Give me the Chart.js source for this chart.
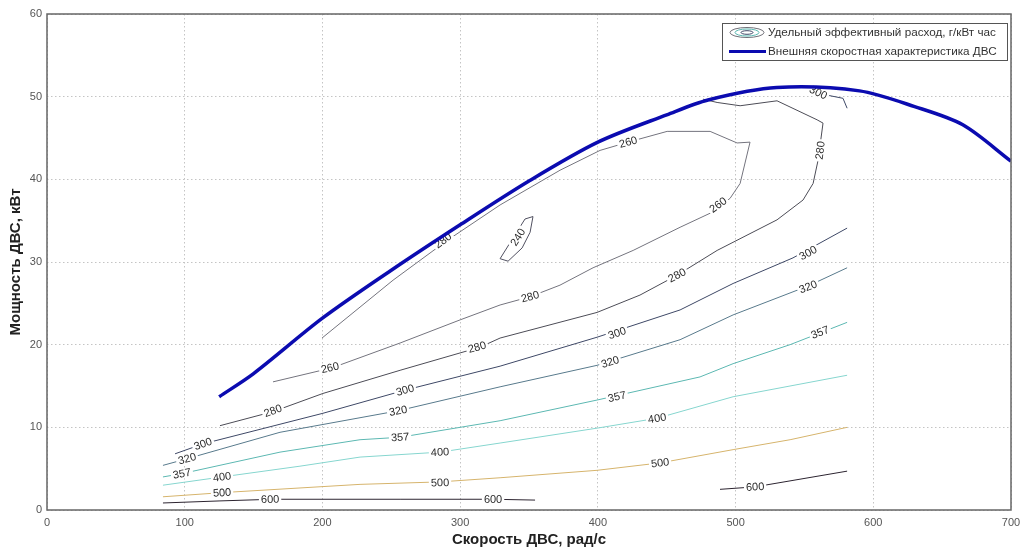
<!DOCTYPE html>
<html>
<head>
<meta charset="utf-8">
<script src="https://cdn.jsdelivr.net/npm/chart.js@4.4.0/dist/chart.umd.min.js"></script>
<style>
  html, body { margin: 0; padding: 0; background: #fff; }
  #wrap { width: 1023px; height: 554px; }
</style>
</head>
<body>
<div id="wrap"><canvas id="mapChart"></canvas></div>
<script>
// Внешняя скоростная характеристика ДВС
const speedX = [125, 150, 200, 250, 300, 350, 400, 450, 480, 530, 590, 630, 665, 700];
const powerY = [13.7, 16.5, 23.2, 29.0, 34.5, 39.8, 44.5, 47.8, 49.6, 51.1, 50.7, 48.8, 46.6, 42.2];

// Изолинии удельного расхода (x - скорость, y - мощность)
const c240x = [352.9, 347.1, 338.4, 329.0, 334.8, 345.0, 350.8, 352.9];
const c240y = [35.5, 35.2, 32.9, 30.4, 30.1, 31.7, 33.6, 35.5];

const c260x = [164.1, 207, 256.4, 300, 329, 350.8, 372.5, 396.5, 425.6, 459.7, 481.5, 496, 503.3, 510.5,
  501.1, 481.5, 450.3, 422, 401.6, 372.5, 329, 290.5, 251.3, 199.7];
const c260y = [15.5, 17.2, 20.2, 23.0, 24.8, 25.8, 27.2, 29.3, 31.4, 34.2, 35.9, 37.7, 39.5, 44.5,
  44.4, 45.8, 45.8, 44.5, 43.5, 41.1, 36.9, 32.6, 27.8, 20.8];

const c280x = [125.6, 164.1, 200.4, 256.4, 314.5, 329, 399.4, 430.6, 457.5, 486.6, 530.1, 549, 556.3,
  559.9, 563.5, 559.2, 530.1, 503.3, 486.6, 476.4];
const c280y = [10.2, 11.9, 14.1, 16.9, 19.7, 20.8, 23.9, 26.0, 28.4, 31.4, 35.1, 37.5, 39.5,
  42.3, 46.8, 47.2, 49.5, 48.9, 49.3, 49.7];

const c300x = [93, 113.3, 200.4, 260, 329, 399.4, 459.7, 498.2, 541.7, 581];
const c300y = [6.8, 8.0, 11.7, 14.5, 17.4, 20.9, 24.2, 27.4, 30.5, 34.1];
const c300bx = [556, 566, 578, 581];
const c300by = [51.0, 50.2, 49.8, 48.6];

const c320x = [84.2, 101.7, 169.2, 254.9, 329, 399.4, 459.7, 498.2, 552.7, 581];
const c320y = [5.4, 6.2, 9.4, 12.0, 14.9, 17.5, 20.6, 23.6, 27.1, 29.3];

const c357x = [84.2, 98, 169.2, 227.3, 256.4, 329, 399.4, 474.2, 498.2, 539.6, 581];
const c357y = [4.0, 4.4, 7.0, 8.5, 8.8, 10.8, 13.3, 16.1, 17.7, 20.0, 22.7];

const c400x = [84.2, 127.1, 183.7, 227.3, 285.4, 329, 399.4, 443, 498.2, 581];
const c400y = [3.0, 4.0, 5.3, 6.4, 7.0, 8.1, 9.9, 11.1, 13.7, 16.3];

const c500x = [84.2, 127.1, 227.3, 285.4, 329, 399.4, 445.2, 498.2, 539.6, 581];
const c500y = [1.6, 2.1, 3.1, 3.4, 3.9, 4.8, 5.7, 7.3, 8.5, 10.0];

const c600ax = [84.2, 125.6, 164.1, 256.4, 323.9, 354.4];
const c600ay = [0.85, 1.1, 1.3, 1.3, 1.3, 1.2];
const c600bx = [488.7, 514.2, 581];
const c600by = [2.5, 2.8, 4.7];

// Подписи изолиний
const labelText = ["280", "240", "260", "260", "280", "300", "280", "280", "300", "320", "357",
  "260", "280", "300", "320", "280", "300", "320", "357", "400", "357", "400", "500", "600",
  "300", "320", "357", "400", "500", "600", "500", "600"];
const labelX = [287.6, 342, 422, 487.3, 561.4, 560, 350.8, 457.5, 552.7, 552.7, 561.4,
  205.5, 312.3, 413.9, 408.9, 164.1, 260, 254.9, 413.9, 443, 256.4, 285.4, 285.4, 323.9,
  113.3, 101.7, 98, 127.1, 127.1, 162, 445.2, 514.2];
const labelY = [32.6, 33, 44.5, 36.9, 43.5, 50.5, 25.8, 28.4, 31.1, 27.0, 21.5,
  17.2, 19.7, 21.4, 17.9, 12.0, 14.5, 12.0, 13.7, 11.1, 8.8, 7.0, 3.3, 1.3,
  8.0, 6.2, 4.4, 4.0, 2.1, 1.3, 5.7, 2.8];
const labelLine = ["c260", "c240", "c260", "c260", "c280", "c300b", "c260", "c280", "c300", "c320", "c357",
  "c260", "c280", "c300", "c320", "c280", "c300", "c320", "c357", "c400", "c357", "c400", "c500", "c600a",
  "c300", "c320", "c357", "c400", "c500", "c600a", "c500", "c600b"];

const xTicks = [0, 100, 200, 300, 400, 500, 600, 700];
const yTicks = [0, 10, 20, 30, 40, 50, 60];

function toPoints(xs, ys) {
  return xs.map(function (x, i) { return { x: x, y: ys[i] }; });
}

function contour(key, xs, ys, color) {
  return {
    label: key,
    data: toPoints(xs, ys),
    borderColor: color,
    borderWidth: 1,
    showLine: true,
    pointRadius: 0,
    tension: 0,
    fill: false,
  };
}

const datasets = [
  {
    label: "power",
    data: toPoints(speedX, powerY),
    borderColor: "#0b0bb0",
    borderWidth: 3.5,
    showLine: true,
    pointRadius: 0,
    tension: 0.3,
    fill: false,
  },
  contour("c240", c240x, c240y, "#505060"),
  contour("c260", c260x, c260y, "#74747e"),
  contour("c280", c280x, c280y, "#4c4c56"),
  contour("c300", c300x, c300y, "#3e4866"),
  contour("c300b", c300bx, c300by, "#3e4866"),
  contour("c320", c320x, c320y, "#587a8c"),
  contour("c357", c357x, c357y, "#5cb8b2"),
  contour("c400", c400x, c400y, "#86d6cf"),
  contour("c500", c500x, c500y, "#d6b46c"),
  contour("c600a", c600ax, c600ay, "#2c2430"),
  contour("c600b", c600bx, c600by, "#2c2430"),
];

function segmentAngle(pts, px, py) {
  let best = Infinity, ang = 0;
  for (let i = 0; i < pts.length - 1; i++) {
    const a = pts[i], b = pts[i + 1];
    const dx = b.x - a.x, dy = b.y - a.y;
    const len = dx * dx + dy * dy;
    if (!len) continue;
    const t = Math.max(0, Math.min(1, ((px - a.x) * dx + (py - a.y) * dy) / len));
    const d = Math.hypot(a.x + t * dx - px, a.y + t * dy - py);
    if (d < best) { best = d; ang = Math.atan2(dy, dx); }
  }
  if (ang > Math.PI / 2) ang -= Math.PI;
  if (ang < -Math.PI / 2) ang += Math.PI;
  return ang;
}

// contour labels, drawn under the blue curve
const contourLabels = {
  id: "contourLabels",
  afterDatasetDraw(chart, args) {
    if (args.index !== 1) return;
    const ctx = chart.ctx;
    const xs = chart.scales.x, ys = chart.scales.y;
    ctx.save();
    ctx.font = "11px Arial, 'Liberation Sans', sans-serif";
    ctx.textAlign = "center";
    ctx.textBaseline = "middle";
    labelText.forEach(function (txt, i) {
      const di = chart.data.datasets.findIndex(function (d) { return d.label === labelLine[i]; });
      const pts = chart.getDatasetMeta(di).data;
      const px = xs.getPixelForValue(labelX[i]);
      const py = ys.getPixelForValue(labelY[i]);
      const ang = segmentAngle(pts, px, py);
      const w = ctx.measureText(txt).width + 4;
      ctx.save();
      ctx.translate(px, py);
      ctx.rotate(ang);
      ctx.fillStyle = "#ffffff";
      ctx.fillRect(-w / 2, -5, w, 10);
      ctx.fillStyle = "#2a2a2a";
      ctx.fillText(txt, 0, 0.5);
      ctx.restore();
    });
    ctx.restore();
  },
};

// frame around plot area + legend box
const frameLegend = {
  id: "frameLegend",
  afterDraw(chart) {
    const ctx = chart.ctx;
    const a = chart.chartArea;
    ctx.save();
    ctx.strokeStyle = "#666";
    ctx.lineWidth = 1.5;
    ctx.strokeRect(a.left, a.top, a.right - a.left, a.bottom - a.top);

    const bx = a.right - 289, by = a.top + 9, bw = 285, bh = 37;
    ctx.fillStyle = "#fff";
    ctx.fillRect(bx, by, bw, bh);
    ctx.strokeStyle = "#555";
    ctx.lineWidth = 1;
    ctx.strokeRect(bx + 0.5, by + 0.5, bw, bh);

    const cx = bx + 25, cy = by + 9.5;
    [[17, 5, "#707078"], [12, 3.5, "#5cb8b2"], [6, 1.8, "#3e4866"]].forEach(function (e) {
      ctx.beginPath();
      ctx.ellipse(cx, cy, e[0], e[1], 0, 0, Math.PI * 2);
      ctx.strokeStyle = e[2];
      ctx.lineWidth = 1;
      ctx.stroke();
    });
    ctx.beginPath();
    ctx.moveTo(bx + 7, by + 28.5);
    ctx.lineTo(bx + 44, by + 28.5);
    ctx.strokeStyle = "#0b0bb0";
    ctx.lineWidth = 3;
    ctx.stroke();

    ctx.fillStyle = "#333";
    ctx.font = "11.7px Arial, 'Liberation Sans', sans-serif";
    ctx.textBaseline = "middle";
    ctx.fillText("Удельный эффективный расход, г/кВт час", bx + 46, cy);
    ctx.fillText("Внешняя скоростная характеристика ДВС", bx + 46, by + 28.5);
    ctx.restore();
  },
};

const ctx = document.getElementById("mapChart").getContext("2d");
const mapChart = new Chart(ctx, {
  type: "scatter",
  data: { datasets: datasets },
  options: {
    responsive: true,
    maintainAspectRatio: false,
    animation: false,
    layout: { padding: { top: 14, right: 12, left: 0, bottom: 0 } },
    plugins: {
      legend: { display: false },
      tooltip: { enabled: false },
    },
    scales: {
      x: {
        type: "linear",
        min: 0,
        max: 700,
        afterBuildTicks: function (scale) {
          scale.ticks = xTicks.map(function (v) { return { value: v }; });
        },
        afterFit: function (scale) {
          scale.height = 44;
          scale.paddingRight = 0;
          scale.paddingLeft = 0;
        },
        grid: {
          color: "#c4c4c4",
          drawTicks: false,
        },
        border: { display: false, dash: [1.5, 2.5] },
        ticks: {
          padding: 6,
          color: "#555",
          font: { size: 11, family: "Arial, 'Liberation Sans', sans-serif" },
        },
        title: {
          display: true,
          text: "Скорость ДВС, рад/с",
          color: "#222",
          padding: { top: 0, bottom: 5 },
          font: { size: 15, weight: "bold", family: "Arial, 'Liberation Sans', sans-serif" },
        },
      },
      y: {
        type: "linear",
        min: 0,
        max: 60,
        afterBuildTicks: function (scale) {
          scale.ticks = yTicks.map(function (v) { return { value: v }; });
        },
        afterFit: function (scale) { scale.width = 47; },
        grid: {
          color: "#c4c4c4",
          drawTicks: false,
        },
        border: { display: false, dash: [1.5, 2.5] },
        ticks: {
          padding: 5,
          color: "#555",
          font: { size: 11, family: "Arial, 'Liberation Sans', sans-serif" },
        },
        title: {
          display: true,
          text: "Мощность ДВС, кВт",
          color: "#222",
          padding: { top: 7, bottom: 0 },
          font: { size: 15, weight: "bold", family: "Arial, 'Liberation Sans', sans-serif" },
        },
      },
    },
  },
  plugins: [contourLabels, frameLegend],
});
</script>
</body>
</html>
